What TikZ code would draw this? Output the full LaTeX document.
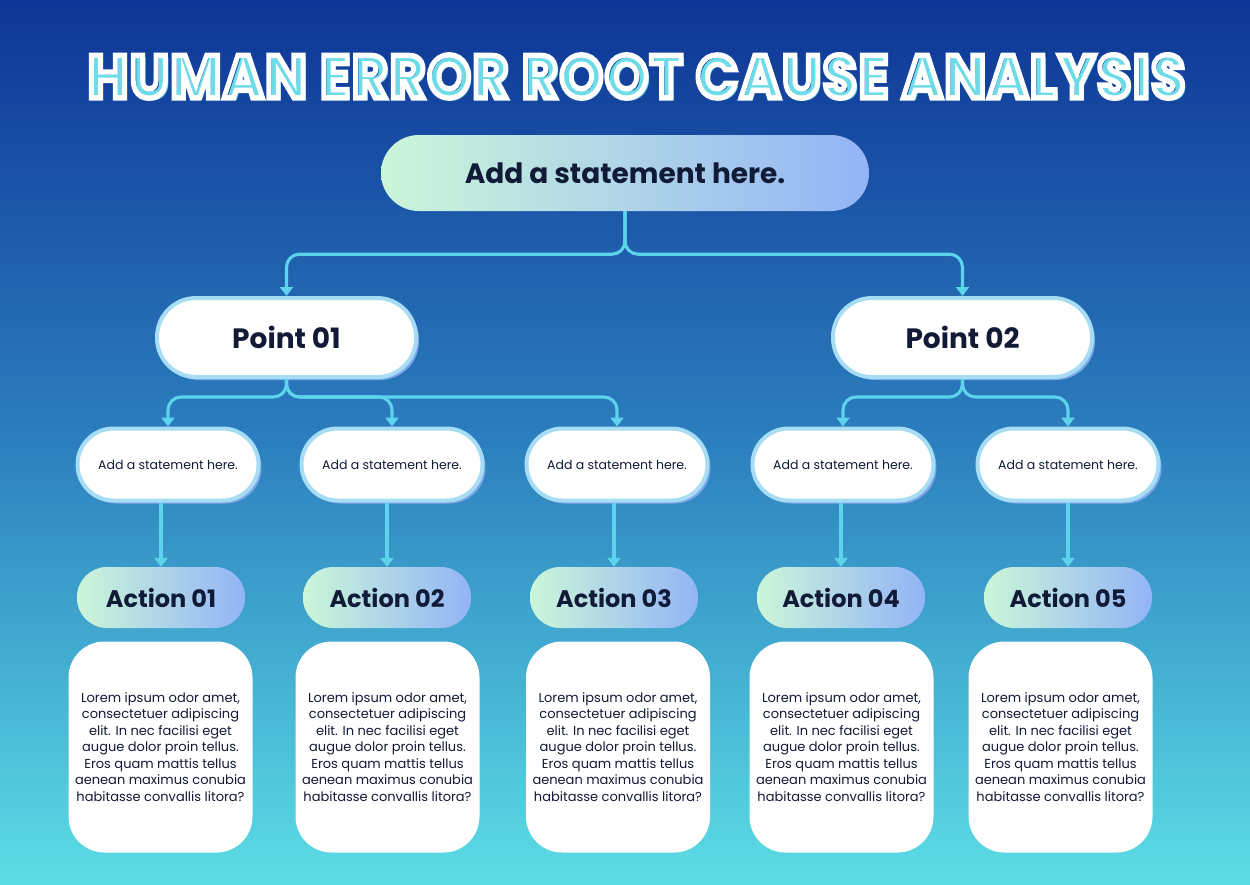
\documentclass[tikz,border=0pt]{standalone}
\usepackage{fontspec}
\setmainfont{Poppins}
\newfontfamily\titlefont[LetterSpace=4]{Poppins}
\usetikzlibrary{arrows.meta,shadows}
\definecolor{bgtop}{HTML}{0E3596}
\definecolor{bgmid}{HTML}{2C7FBE}
\definecolor{bgbot}{HTML}{5CDDE5}
\definecolor{ink}{HTML}{111A36}
\definecolor{linec}{HTML}{5ED3EC}
\definecolor{gradL}{HTML}{CBF6D9}
\definecolor{gradR}{HTML}{93B4F6}
\definecolor{edgec}{HTML}{A6DDF4}
\definecolor{shadc}{HTML}{7FA6EA}
\definecolor{titlecyan}{HTML}{6EDCE8}
\newcommand\strokeon{\special{pdf:literal direct 1 Tr 0.9 w}}
\newcommand\strokeoff{\special{pdf:literal direct 0 Tr}}
\begin{document}
\begin{tikzpicture}[x=1pt,y=-1pt,
  conn/.style={draw=linec, line width=3.1pt, rounded corners=13pt,
    -{Triangle[width=13pt,length=9pt]}},
  mainbox/.style={left color=gradL, right color=gradR, rounded corners=38pt,
    minimum width=488pt, minimum height=76pt, inner sep=0pt,
    font=\fontsize{28}{30}\selectfont\bfseries, text=ink},
  pointbox/.style={draw=edgec, line width=4pt, fill=white, rounded corners=39pt,
    minimum width=259pt, minimum height=79pt, inner sep=0pt,
    font=\fontsize{28}{30}\selectfont\bfseries, text=ink,
    drop shadow={shadow xshift=3pt, shadow yshift=-3pt, fill=shadc, opacity=1}},
  stmtbox/.style={draw=edgec, line width=4pt, fill=white, rounded corners=36pt,
    minimum width=181pt, minimum height=72pt, inner sep=0pt,
    font=\fontsize{12.5}{14}\selectfont, text=ink,
    drop shadow={shadow xshift=3pt, shadow yshift=-3pt, fill=shadc, opacity=1}},
  actbox/.style={left color=gradL, right color=gradR, rounded corners=30pt,
    minimum width=168pt, minimum height=61pt, inner sep=0pt,
    font=\fontsize{24}{26}\selectfont\bfseries, text=ink},
  textbox/.style={fill=white, rounded corners=36pt,
    minimum width=184pt, minimum height=211pt, inner sep=0pt, align=center,
    font=\fontsize{13}{16.5}\selectfont, text=ink},
  titleshadow/.style={inner sep=0pt, text=titlecyan},
  titletop/.style={inner sep=0pt, text=white}
]
\useasboundingbox (0,0) rectangle (1250,884);
\shade[top color=bgtop, bottom color=bgbot, middle color=bgmid] (0,0) rectangle (1250,884);

% title
\node[titleshadow] (tshadow) at (639.5,79) {\resizebox{1097pt}{43pt}{\titlefont\bfseries HUMAN ERROR ROOT CAUSE ANALYSIS}};
\node[titletop] (title) at (636.5,76.5) {\resizebox{1097pt}{43pt}{\strokeon\titlefont\bfseries HUMAN ERROR ROOT CAUSE ANALYSIS\strokeoff}};

% main statement
\node[mainbox] (main) at (625,173) {Add a statement here.};

% points
\node[pointbox] (p1) at (286.5,337.5) {Point 01};
\node[pointbox] (p2) at (962.5,337.5) {Point 02};

% statements
\node[stmtbox] (s1) at (168,464.5) {Add a statement here.};
\node[stmtbox] (s2) at (392,464.5) {Add a statement here.};
\node[stmtbox] (s3) at (617,464.5) {Add a statement here.};
\node[stmtbox] (s4) at (843,464.5) {Add a statement here.};
\node[stmtbox] (s5) at (1068,464.5) {Add a statement here.};

% actions
\node[actbox] (a1) at (161,597.5) {Action 01};
\node[actbox] (a2) at (387,597.5) {Action 02};
\node[actbox] (a3) at (614,597.5) {Action 03};
\node[actbox] (a4) at (841,597.5) {Action 04};
\node[actbox] (a5) at (1068,597.5) {Action 05};

% text boxes
\foreach \n/\x in {1/160.5,2/387.5,3/618,4/841.5,5/1060.5}{
  \node[textbox] (t\n) at (\x,747) {Lorem ipsum odor amet,\\consectetuer adipiscing\\elit. In nec facilisi eget\\augue dolor proin tellus.\\Eros quam mattis tellus\\aenean maximus conubia\\habitasse convallis litora?};
}

% connectors
\draw[conn] (main.south) -- ++(0,43) -| (p1.north);
\draw[conn] (main.south) -- ++(0,43) -| (p2.north);

\draw[conn] (p1.south) -- ++(0,18) -| (s1.north);
\draw[conn] (p1.south) -- ++(0,18) -| (s2.north);
\draw[conn] (p1.south) -- ++(0,18) -| (s3.north);
\draw[conn] (p2.south) -- ++(0,18) -| (s4.north);
\draw[conn] (p2.south) -- ++(0,18) -| (s5.north);

\foreach \n in {1,...,5}{
  \draw[conn] (s\n.south -| a\n.north) -- (a\n.north);
}
\end{tikzpicture}
\end{document}
